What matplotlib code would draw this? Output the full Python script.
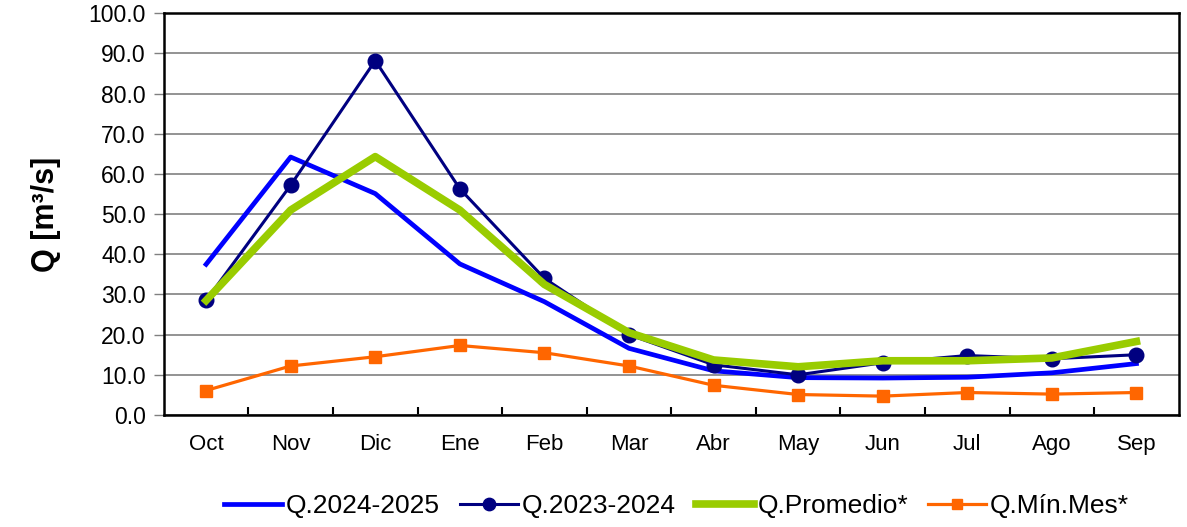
import numpy as np
import matplotlib
matplotlib.use('Agg')
import matplotlib.pyplot as plt

plt.rcParams['font.family'] = ['Liberation Sans', 'DejaVu Sans']

meses = ['Oct', 'Nov', 'Dic', 'Ene', 'Feb', 'Mar', 'Abr', 'May', 'Jun', 'Jul', 'Ago', 'Sep']
q_2024_2025 = [37.5, 64.2, 55.1, 37.6, 28.2, 16.6, 11.0, 9.3, 9.2, 9.4, 10.5, 12.8]
q_2023_2024 = [28.5, 57.2, 88.2, 56.3, 34.0, 20.0, 12.5, 10.0, 13.0, 14.8, 14.0, 15.0]
q_promedio = [28.5, 51.0, 64.3, 51.0, 32.5, 20.5, 13.7, 12.0, 13.5, 13.5, 14.2, 18.3]
q_min_mes = [6.1, 12.2, 14.5, 17.3, 15.5, 12.2, 7.4, 5.1, 4.7, 5.6, 5.2, 5.6]

fig = plt.figure(figsize=(11.87, 5.27), dpi=100)
ax = fig.add_axes([0.138, 0.2125, 0.855, 0.7625])

x = np.arange(len(meses)) + 0.5

ax.plot(x, q_2024_2025, color='#0000FF', lw=3.4, label='Q.2024-2025', zorder=3)
ax.plot(x, q_2023_2024, color='#000080', lw=2.2, marker='o', ms=10.5,
        label='Q.2023-2024', zorder=4)
ax.plot(x, q_promedio, color='#99CC00', lw=5.5, label='Q.Promedio*', zorder=5)
ax.plot(x, q_min_mes, color='#FF6600', lw=2.3, marker='s', ms=9,
        label='Q.Mín.Mes*', zorder=6)

ax.set_xlim(0, 12)
ax.set_ylim(0, 100)
ax.set_yticks(np.arange(0, 101, 10))
ax.set_yticklabels(['%.1f' % v for v in np.arange(0, 101, 10)], fontsize=16.5)
ax.yaxis.grid(True, color='#808080', lw=1.2)
ax.set_axisbelow(True)
ax.tick_params(axis='y', direction='out', length=7, width=1, color='#808080', pad=6)

# month labels centred, tick marks on the boundaries
ax.set_xticks(np.arange(1, 12))
ax.set_xticklabels([])
ax.set_xticks(x, minor=True)
ax.set_xticklabels(meses, minor=True, fontsize=16)
ax.tick_params(axis='x', which='major', direction='in', length=6, width=1.5)
ax.tick_params(axis='x', which='minor', length=0, pad=14)

for s in ax.spines.values():
    s.set_linewidth(1.8)

ax.set_ylabel('Q [m³/s]', fontsize=22, fontweight='bold', labelpad=20)

leg = fig.legend(loc='center', bbox_to_anchor=(0.570, 0.040), ncol=4, frameon=False,
                 fontsize=19, handlelength=2.2, handletextpad=0.15, columnspacing=0.75,
                 markerscale=0.85)

fig.savefig('out.png', dpi=100)
